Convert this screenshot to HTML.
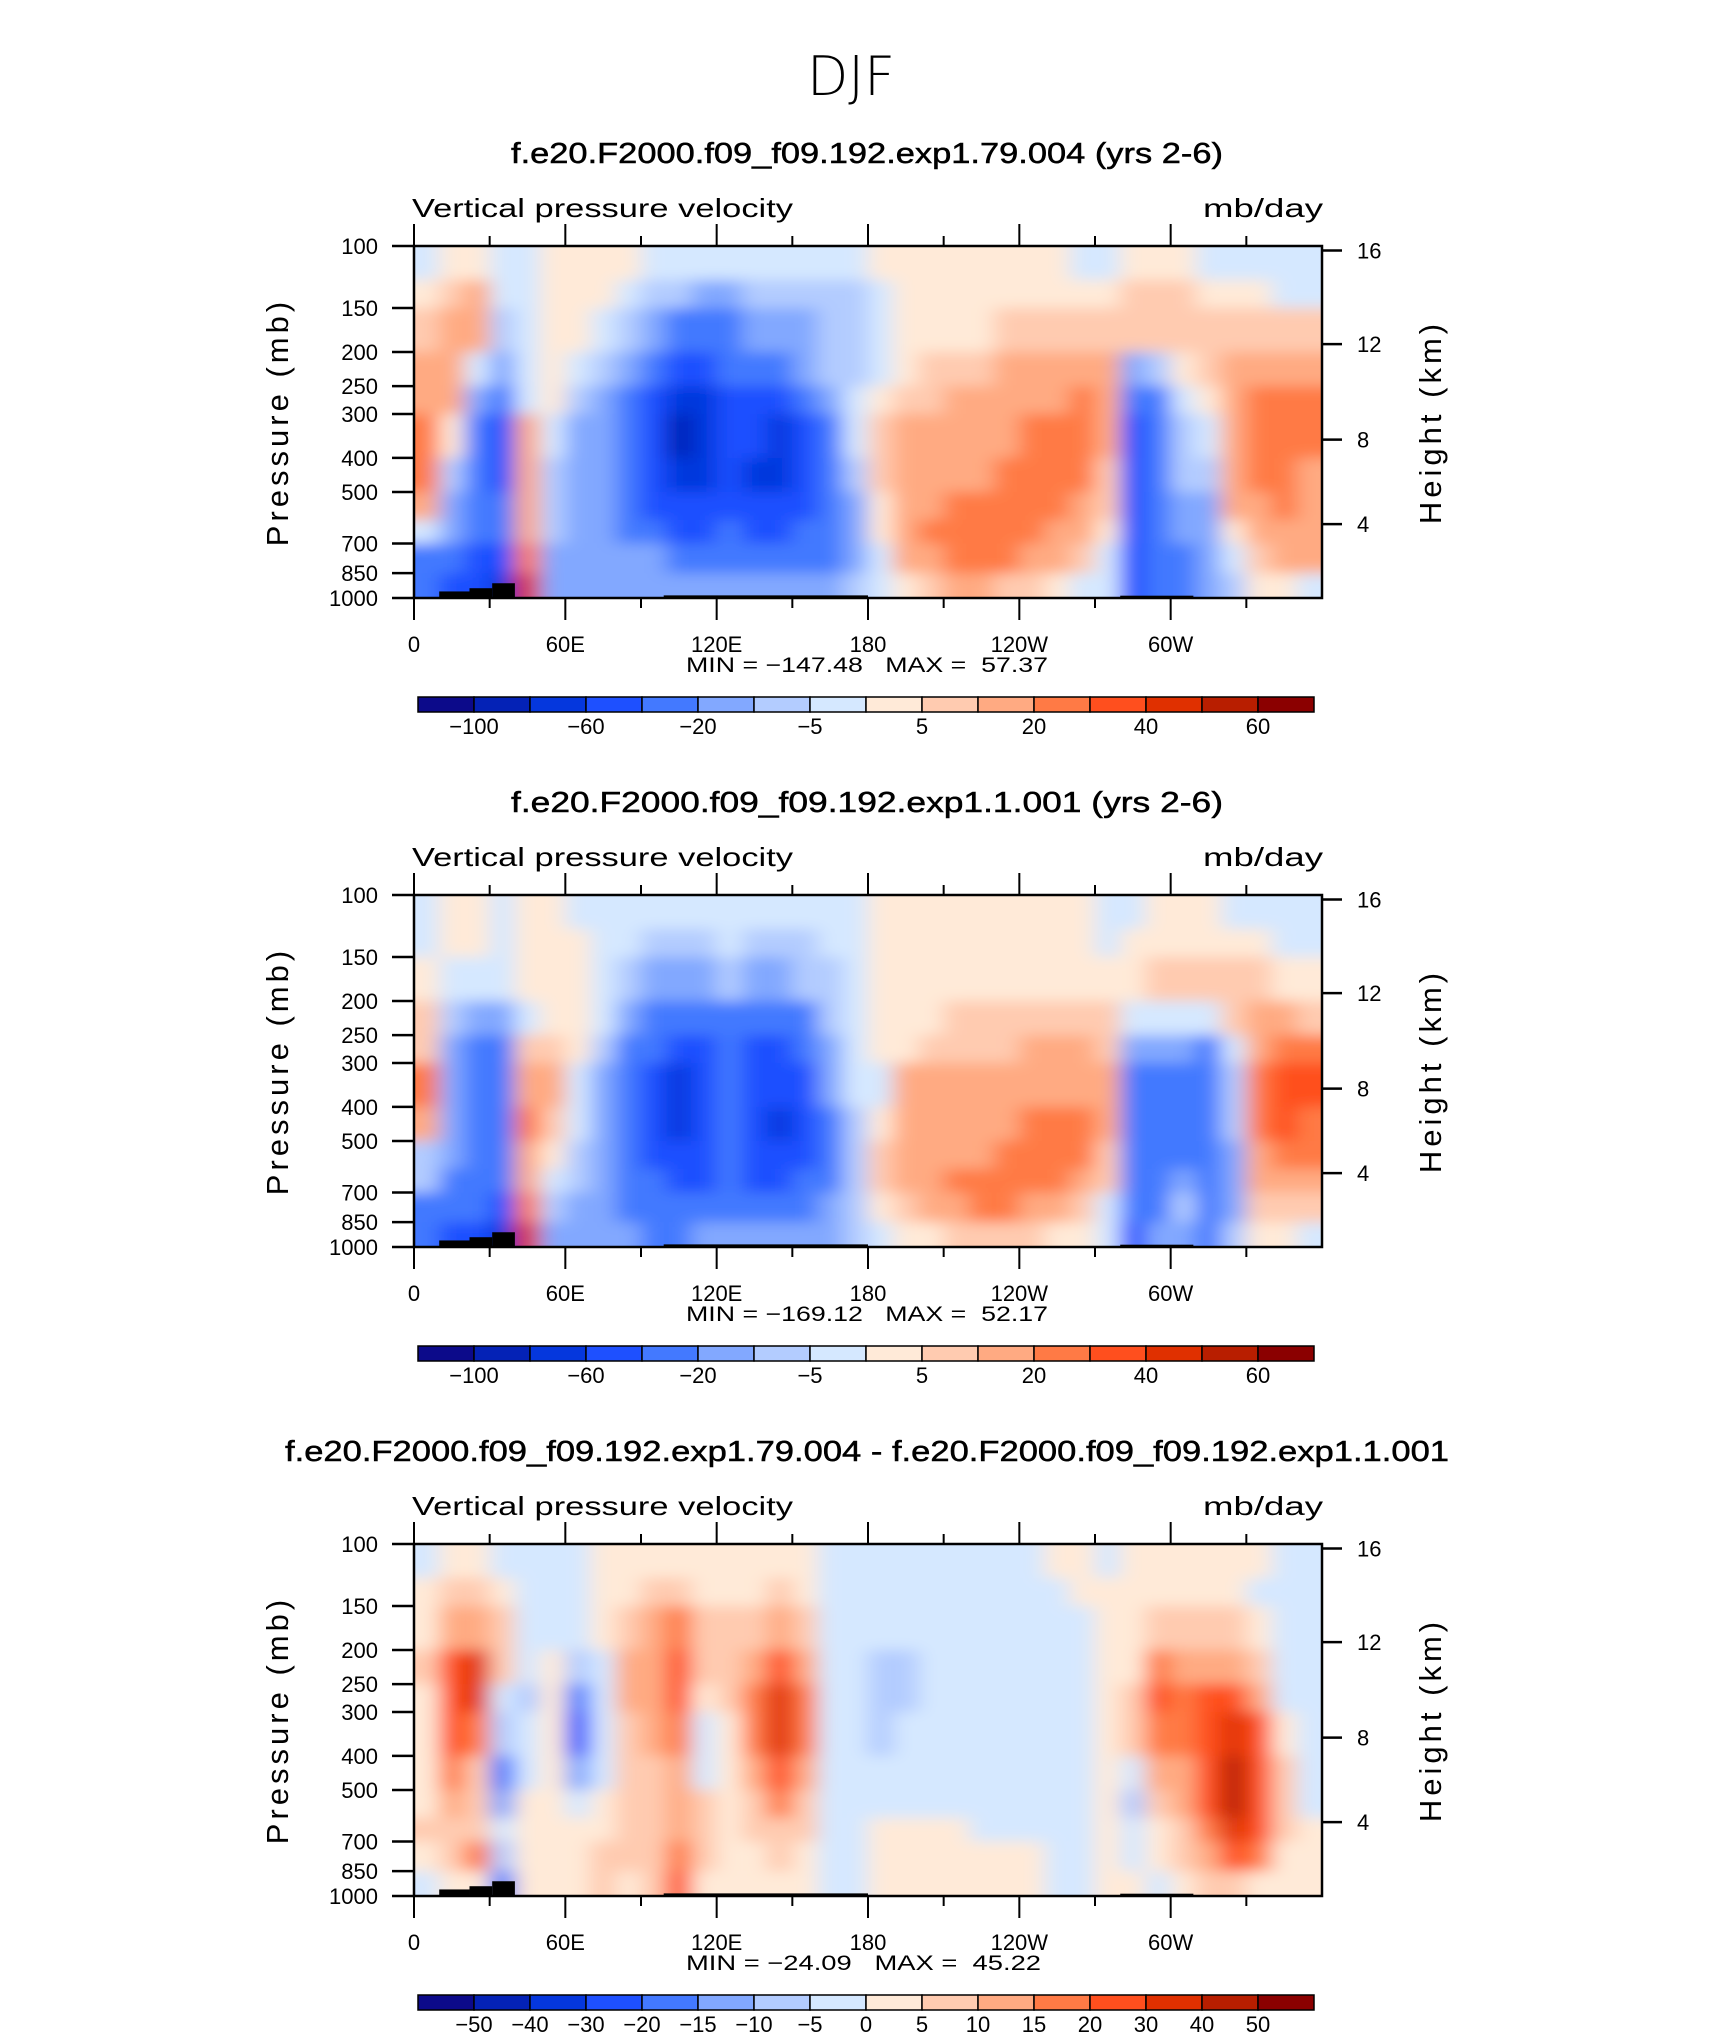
<!DOCTYPE html>
<html><head><meta charset="utf-8">
<style>
html,body{margin:0;padding:0;background:#fff;}
svg{display:block;}
text{font-family:"Liberation Sans",sans-serif;fill:#000;}
</style></head>
<body>
<svg id="chart" xmlns="http://www.w3.org/2000/svg" width="1710" height="2038" viewBox="0 0 1710 2038">
<defs>
<filter id="smooth" filterUnits="userSpaceOnUse" x="0" y="0" width="1710" height="2038"><feGaussianBlur stdDeviation="11 7"/></filter>
<clipPath id="clip0"><rect x="414" y="246" width="908" height="352"/></clipPath>
<clipPath id="clip1"><rect x="414" y="895" width="908" height="352"/></clipPath>
<clipPath id="clip2"><rect x="414" y="1544" width="908" height="352"/></clipPath>
</defs>
<text x="851" y="95" font-size="54" text-anchor="middle" textLength="88" lengthAdjust="spacingAndGlyphs" style="font-family:'DejaVu Sans',sans-serif;font-weight:200">DJF</text>
</svg>
<script>
// ---------- data ----------
const lonEdges = [0,10,20,30,40,50,60,70,80,90,100,110,120,130,140,150,160,170,180,190,200,210,220,230,240,250,260,270,280,290,300,310,320,330,340,350,360];
const pressureBands = [100,125,150,200,250,300,400,500,600,700,850,1000];
const levelsAbs = [-100,-80,-60,-40,-20,-10,-5,0,5,10,20,30,40,50,60];
const levelsDiff = [-50,-40,-30,-20,-15,-10,-5,0,5,10,15,20,30,40,50];
const labelsAbs = ["-100","-60","-20","-5","5","20","40","60"];
const labelIdxAbs = [0,2,4,6,8,10,12,14];
const labelsDiff = ["-50","-40","-30","-20","-15","-10","-5","0","5","10","15","20","30","40","50"];
const labelIdxDiff = [0,1,2,3,4,5,6,7,8,9,10,11,12,13,14];
const pressureTicks = [100,150,200,250,300,400,500,700,850,1000];
const heightTicks = [16,12,8,4];
const heightTickP = [103,190,355,617];
const lonTickLabels = ["0","60E","120E","180","120W","60W"];
const lonTickVals = [0,60,120,180,240,300];
const titles = ["f.e20.F2000.f09_f09.192.exp1.79.004 (yrs 2-6)","f.e20.F2000.f09_f09.192.exp1.1.001 (yrs 2-6)","f.e20.F2000.f09_f09.192.exp1.79.004 - f.e20.F2000.f09_f09.192.exp1.1.001"];
const minValues = ["-147.48","-169.12","-24.09"];
const maxValues = ["57.37","52.17","45.22"];
const topoBlocks = [[10,22,958],[22,31,938],[31,40,908],[99,180,983],[280,309,985]];

const field1 = [
[-3,3,8,15,15,25,25,12,-5,-30,-40],
[3,5,12,15,15,3,-10,-20,-20,-40,-60],
[3,10,12,-5,-20,-40,-40,-40,-40,-50,-60],
[-3,-5,-10,-20,-40,-50,-50,-40,-40,-60,-80],
[-3,-3,-3,-5,-5,10,15,15,15,25,45],
[3,3,3,3,3,-3,-10,-10,-10,-15,-15],
[3,3,3,-5,-10,-20,-20,-20,-20,-20,-15],
[3,3,-5,-10,-20,-20,-20,-20,-20,-20,-15],
[3,-5,-10,-20,-30,-30,-30,-30,-30,-20,-15],
[-3,-10,-20,-40,-50,-50,-50,-50,-40,-20,-15],
[-5,-10,-30,-50,-70,-90,-80,-60,-50,-30,-20],
[-5,-20,-40,-50,-70,-80,-70,-60,-50,-30,-15],
[-5,-20,-40,-30,-50,-60,-60,-50,-40,-30,-15],
[-5,-10,-20,-30,-50,-60,-70,-60,-50,-30,-20],
[-5,-10,-20,-40,-60,-70,-70,-60,-50,-30,-20],
[-5,-10,-20,-20,-40,-50,-60,-50,-40,-30,-20],
[-3,-10,-10,-10,-20,-30,-30,-40,-40,-30,-15],
[-3,-10,-10,-10,-5,-5,-10,-20,-20,-20,-10],
[3,-5,-5,-5,3,5,5,3,3,-3,-5],
[3,3,3,3,5,10,12,12,12,10,3],
[3,3,3,5,8,15,15,15,20,15,5],
[3,3,3,8,15,15,15,20,25,25,10],
[3,3,3,8,15,15,15,20,25,25,10],
[3,3,5,12,15,15,20,25,25,20,8],
[3,3,5,12,15,20,25,25,20,15,5],
[3,3,5,15,15,25,25,20,15,10,3],
[-3,3,8,15,20,25,25,15,10,5,-3],
[-3,3,8,12,12,10,8,5,3,-3,-5],
[3,5,8,-20,-40,-50,-50,-50,-50,-50,-60],
[3,8,8,-10,-30,-40,-40,-30,-30,-30,-30],
[3,8,8,3,-5,-10,-10,-20,-20,-30,-40],
[-3,3,8,8,3,-5,-10,-20,-20,-20,-15],
[-3,3,8,12,12,12,12,10,3,-5,-10],
[-3,3,8,15,25,25,25,15,12,8,3],
[-3,-3,8,12,25,25,25,25,15,10,3],
[-3,-3,5,12,20,25,15,15,12,10,-3]
];
const field2 = [
[-3,-3,3,8,8,20,15,-10,-10,-30,-30],
[3,3,-5,-10,-20,-20,-20,-20,-30,-40,-60],
[3,3,-5,-20,-30,-30,-30,-30,-30,-40,-60],
[-3,-3,-5,-20,-30,-30,-30,-30,-40,-60,-80],
[3,3,3,-5,8,12,20,15,12,20,40],
[3,3,3,3,8,10,8,3,-5,-10,-15],
[-3,3,3,3,3,-3,-5,-10,-10,-20,-20],
[-3,-3,-3,-5,-10,-20,-20,-20,-20,-20,-20],
[-3,-5,-10,-20,-30,-40,-40,-40,-30,-30,-20],
[-3,-10,-20,-30,-40,-60,-60,-50,-40,-40,-30],
[-5,-10,-20,-40,-50,-70,-70,-60,-50,-40,-30],
[-5,-10,-20,-40,-50,-60,-60,-60,-50,-40,-20],
[-5,-5,-10,-30,-40,-40,-40,-40,-40,-30,-20],
[-5,-10,-20,-40,-50,-60,-60,-60,-50,-40,-20],
[-5,-10,-20,-40,-50,-60,-70,-60,-50,-40,-20],
[-5,-10,-10,-30,-40,-50,-50,-50,-40,-30,-20],
[-3,-5,-10,-10,-20,-20,-30,-30,-30,-20,-20],
[-3,-3,-3,-5,-5,-5,-10,-10,-10,-10,-10],
[3,3,3,3,3,-3,3,5,5,3,-3],
[3,3,3,3,3,10,10,10,10,8,3],
[3,3,3,3,5,10,10,10,15,10,3],
[3,3,3,5,8,10,10,15,20,15,5],
[3,3,3,8,8,10,15,15,25,20,8],
[3,3,3,8,8,15,15,25,25,20,8],
[3,3,3,8,12,15,25,25,25,15,5],
[3,3,3,8,12,15,25,25,20,12,3],
[3,3,3,8,12,15,25,20,15,8,3],
[-3,-3,3,8,8,10,10,8,5,-3,-5],
[-3,3,3,-5,-20,-40,-40,-40,-40,-40,-60],
[3,3,5,-5,-20,-30,-40,-40,-40,-30,-15],
[3,3,8,-5,-20,-30,-30,-30,-20,-10,-20],
[3,3,8,-5,-30,-40,-40,-40,-40,-40,-30],
[-3,3,8,8,-5,-10,-10,-20,-20,-20,-10],
[-3,3,5,12,15,20,25,15,12,8,3],
[-3,-3,3,12,25,30,30,25,12,8,3],
[-3,-3,3,8,25,35,25,20,12,8,-5]
];
const field3 = [
[-3,3,3,5,3,3,3,3,5,3,-3],
[3,5,10,20,25,20,15,10,5,5,3],
[3,5,12,30,30,15,8,5,5,15,3],
[-3,3,5,5,-5,-10,-20,-15,-5,-10,-20],
[-3,-3,-5,-5,-10,-5,-5,3,3,3,3],
[-3,-3,-3,3,3,3,3,3,3,3,3],
[-3,-3,-3,-10,-20,-25,-15,-5,3,3,3],
[3,3,3,-5,-5,-5,-5,3,3,5,5],
[3,3,5,10,10,8,5,5,5,5,3],
[3,5,10,12,12,10,5,5,5,8,5],
[3,5,15,20,20,15,10,10,10,15,20],
[3,3,5,5,3,-3,-3,5,5,5,3],
[3,3,5,5,5,3,3,3,3,3,3],
[3,3,8,12,15,15,10,5,5,3,3],
[3,5,10,25,30,30,25,15,8,5,3],
[3,3,5,12,15,15,12,8,5,3,3],
[-3,-3,-3,-3,-3,-3,-3,-3,-3,-5,-5],
[-3,-5,-5,-5,-5,-5,-3,-3,-3,-5,-3],
[-3,-5,-5,-10,-10,-10,-5,-5,3,3,3],
[-3,-5,-5,-10,-10,-5,-5,-5,3,3,3],
[-3,-3,-5,-5,-5,-5,-5,-3,3,3,3],
[-3,-3,-3,-5,-5,-5,-3,-3,3,3,3],
[-3,-3,-3,-3,-3,-3,-3,-3,-3,3,3],
[-3,-3,-5,-5,-5,-5,-5,-3,-3,3,3],
[-3,-3,-3,-3,-5,-5,-5,-3,-3,3,3],
[3,-3,-3,-3,-3,-3,-3,-3,-3,-3,-3],
[3,3,-3,-3,-3,-3,-3,-3,-3,-3,-3],
[-3,3,3,3,3,3,3,3,3,3,3],
[3,3,3,3,5,5,-5,-10,-3,-3,3],
[3,3,5,15,20,15,10,5,3,3,-3],
[3,3,5,10,15,15,10,10,5,5,3],
[3,3,5,10,20,25,25,20,15,10,5],
[3,3,5,10,25,35,45,40,30,20,5],
[3,-3,3,5,10,20,25,25,25,15,3],
[-3,-3,-3,-5,-5,3,5,5,5,3,3],
[-3,-3,-3,-5,-5,-5,-5,-5,3,3,3]
];
const fields = [field1, field2, field3];

// ---------- rendering ----------
const palette = ["#0c0a8a","#0422b6","#0537dd","#1e50ff","#4379ff","#82a8ff","#b3ccff","#d5e8ff","#ffead8","#ffcbb0","#ffaa82","#ff7a45","#ff4f1e","#e03000","#b81e00","#8b0000"];
const NS = "http://www.w3.org/2000/svg";
const svg = document.getElementById("chart");
const L = 414, R = 1322, W = R - L, H = 352, TOP0 = 246, DY = 649;
function xOf(lon){ return L + lon / 360 * W; }
function yOf(p, top){ return top + (Math.log10(p) - 2) * H; }
function colorFor(v, lv){ let k = 0; while (k < lv.length && v >= lv[k]) k++; return palette[k]; }
function mk(tag, attrs, parent){ const e = document.createElementNS(NS, tag); for (const k in attrs) e.setAttribute(k, attrs[k]); (parent || svg).appendChild(e); return e; }
function txt(s, attrs, parent){ const e = mk("text", attrs, parent); e.textContent = s; return e; }

for (let pi = 0; pi < 3; pi++) {
  const top = TOP0 + pi * DY, bot = top + H;
  const lv = pi === 2 ? levelsDiff : levelsAbs;
  const g = mk("g", {});
  
  

  const t = txt(titles[pi], {x: 867, y: top - 83, "font-size": 29, "text-anchor": "middle", textLength: pi === 2 ? 1164 : 712, lengthAdjust: "spacingAndGlyphs", stroke: "#000", "stroke-width": 0.5}, g);
  
  
  const lt = txt("Vertical pressure velocity", {x: 412, y: top - 29, "font-size": 26, textLength: 381, lengthAdjust: "spacingAndGlyphs"}, g);
  
  
  const ut = txt("mb/day", {x: 1323, y: top - 29, "font-size": 26, "text-anchor": "end", textLength: 120, lengthAdjust: "spacingAndGlyphs"}, g);
  
  

  const clipG = mk("g", {"clip-path": "url(#clip" + pi + ")"}, g);
  const fg = mk("g", {filter: "url(#smooth)"}, clipG);
  
  
  const f = fields[pi];
  for (let i = 0; i < f.length; i++) {
    let x0 = xOf(lonEdges[i]), x1 = xOf(lonEdges[i + 1]);
    if (i === 0) x0 -= 40;
    if (i === f.length - 1) x1 += 40;
    for (let j = 0; j < f[i].length; j++) {
      let y0 = yOf(pressureBands[j], top), y1 = yOf(pressureBands[j + 1], top);
      if (j === 0) y0 -= 40;
      if (j === f[i].length - 1) y1 += 40;
      const r = mk("rect", {x: x0.toFixed(1), y: y0.toFixed(1), width: (x1 - x0 + 0.6).toFixed(1), height: (y1 - y0 + 0.6).toFixed(1), fill: colorFor(f[i][j], lv)}, fg);
      
      
    }
  }
  for (const b of topoBlocks) {
    const r = mk("rect", {x: xOf(b[0]), y: yOf(b[2], top), width: xOf(b[1]) - xOf(b[0]), height: bot - yOf(b[2], top), fill: "#000"}, g);
    
    
  }
  const fr = mk("rect", {x: L, y: top, width: W, height: H, fill: "none", stroke: "#000", "stroke-width": 2.5}, g);
  
  

  for (let lon = 0; lon < 360; lon += 30) {
    const major = lon % 60 === 0, len = major ? 22 : 10, x = xOf(lon);
    mk("line", {x1: x, x2: x, y1: bot, y2: bot + len, stroke: "#000", "stroke-width": 2}, g);
    mk("line", {x1: x, x2: x, y1: top, y2: top - len, stroke: "#000", "stroke-width": 2}, g);
  }
  for (let k = 0; k < lonTickVals.length; k++) {
    const e = txt(lonTickLabels[k], {x: xOf(lonTickVals[k]), y: bot + 54, "font-size": 22, "text-anchor": "middle"}, g);
    
    
  }
  const mm = txt("MIN\u00a0=\u00a0" + minValues[pi].replace("-", "\u2212") + "\u00a0\u00a0\u00a0MAX\u00a0=\u00a0\u00a0" + maxValues[pi], {x: 686, y: bot + 74, "font-size": 21, textLength: pi === 2 ? 355 : 362, lengthAdjust: "spacingAndGlyphs"}, g);
  
  

  for (const p of pressureTicks) {
    const y = yOf(p, top);
    mk("line", {x1: L - 22, x2: L, y1: y, y2: y, stroke: "#000", "stroke-width": 2.5}, g);
    const e = txt(String(p), {x: 378, y: y + 8, "font-size": 22, "text-anchor": "end"}, g);
    
    
  }
  const yt = txt("Pressure  (mb)", {x: 0, y: 0, "font-size": 31, "text-anchor": "middle", transform: "translate(288," + (top + 176) + ") rotate(-90)", "letter-spacing": 4}, g);
  
  

  for (let k = 0; k < heightTicks.length; k++) {
    const y = yOf(heightTickP[k], top);
    mk("line", {x1: R, x2: R + 20, y1: y, y2: y, stroke: "#000", "stroke-width": 2.5}, g);
    const e = txt(String(heightTicks[k]), {x: 1357, y: y + 8, "font-size": 22}, g);
    
    
  }
  const ht = txt("Height  (km)", {x: 0, y: 0, "font-size": 31, "text-anchor": "middle", transform: "translate(1441," + (top + 176) + ") rotate(-90)", "letter-spacing": 4}, g);
  
  

  const cbTop = top + 451, cbL = 418, bw = 56;
  const cb = mk("g", {}, g);
  
  
  for (let k = 0; k < 16; k++) {
    const r = mk("rect", {x: cbL + k * bw, y: cbTop, width: bw, height: 15, fill: palette[k], stroke: "#000", "stroke-width": 1.5}, cb);
    
    
  }
  const labs = pi === 2 ? labelsDiff : labelsAbs, idx = pi === 2 ? labelIdxDiff : labelIdxAbs;
  for (let k = 0; k < labs.length; k++) {
    const e = txt(labs[k].replace("-", "\u2212"), {x: cbL + (idx[k] + 1) * bw, y: cbTop + 37, "font-size": 22, "text-anchor": "middle"}, cb);
    
    
  }
}
</script>
</body></html>
